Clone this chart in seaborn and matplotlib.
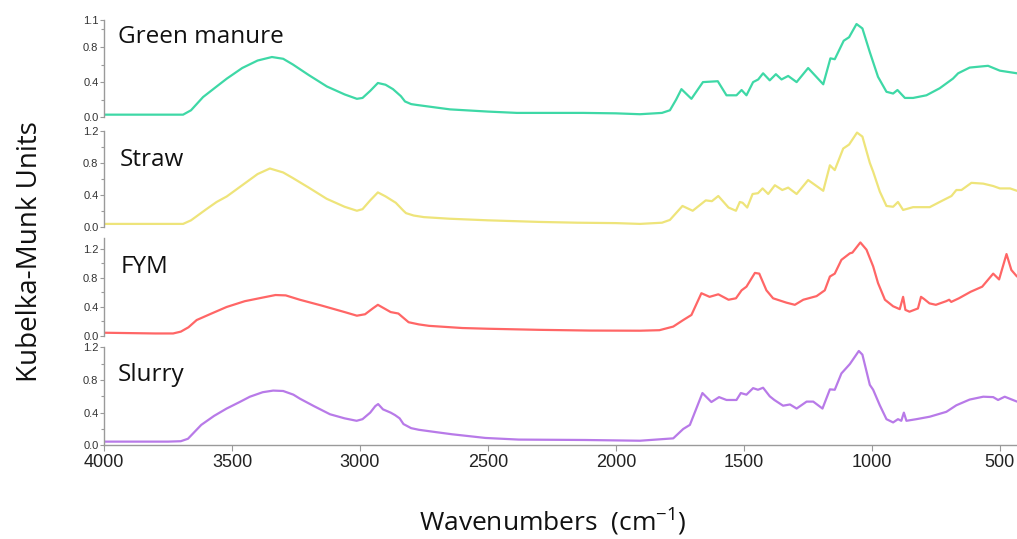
import numpy as np
import pandas as pd
import matplotlib
matplotlib.use("Agg")
import matplotlib.pyplot as plt
import seaborn as sns

# ---------------- data ----------------
gm_wn = [4000, 3800, 3691, 3660, 3613, 3560, 3520, 3460, 3400, 3344, 3300, 3262, 3200, 3129,
         3060, 3012, 2990, 2960, 2930, 2900, 2871, 2840, 2824, 2800, 2777, 2700, 2648, 2500,
         2387, 2250, 2129, 2000, 1906, 1820, 1789, 1765, 1744, 1705, 1660, 1602, 1568, 1529,
         1509, 1490, 1464, 1444, 1425, 1399, 1375, 1353, 1327, 1294, 1249, 1190, 1162, 1145,
         1110, 1089, 1060, 1037, 1008, 976, 943, 917, 900, 871, 839, 787, 735, 683, 663, 618,
         565, 546, 500, 433]
gm_val = [0.03, 0.03, 0.03, 0.08, 0.23, 0.35, 0.44, 0.56, 0.645, 0.685, 0.665, 0.60, 0.48, 0.35,
          0.26, 0.21, 0.22, 0.30, 0.39, 0.37, 0.32, 0.24, 0.18, 0.15, 0.14, 0.11, 0.09, 0.065,
          0.05, 0.05, 0.05, 0.045, 0.035, 0.05, 0.08, 0.20, 0.32, 0.21, 0.40, 0.41, 0.25, 0.25,
          0.31, 0.25, 0.40, 0.43, 0.50, 0.42, 0.49, 0.43, 0.47, 0.40, 0.56, 0.375, 0.67, 0.66,
          0.87, 0.91, 1.06, 1.01, 0.74, 0.46, 0.29, 0.27, 0.31, 0.22, 0.22, 0.25, 0.33, 0.44,
          0.50, 0.565, 0.58, 0.585, 0.53, 0.50]

st_wn = [4000, 3800, 3691, 3660, 3600, 3560, 3520, 3460, 3400, 3352, 3300, 3262, 3200, 3130,
         3060, 3012, 2990, 2960, 2930, 2900, 2860, 2830, 2820, 2790, 2750, 2650, 2500, 2300,
         2150, 2000, 1906, 1820, 1789, 1740, 1700, 1649, 1625, 1600, 1560, 1531, 1516, 1505,
         1487, 1466, 1445, 1427, 1405, 1379, 1350, 1327, 1294, 1249, 1190, 1164, 1145, 1112,
         1089, 1058, 1037, 1008, 995, 969, 943, 917, 898, 878, 839, 774, 735, 689, 670, 650,
         611, 565, 526, 500, 460, 433]
st_val = [0.035, 0.035, 0.035, 0.08, 0.22, 0.31, 0.38, 0.52, 0.66, 0.73, 0.68, 0.61, 0.49, 0.35,
          0.25, 0.20, 0.22, 0.33, 0.43, 0.38, 0.30, 0.20, 0.17, 0.14, 0.12, 0.10, 0.08, 0.06,
          0.05, 0.045, 0.035, 0.05, 0.085, 0.26, 0.20, 0.33, 0.32, 0.385, 0.24, 0.20, 0.31, 0.30,
          0.24, 0.41, 0.42, 0.48, 0.41, 0.52, 0.46, 0.49, 0.41, 0.585, 0.45, 0.77, 0.71, 0.98,
          1.03, 1.18, 1.13, 0.80, 0.69, 0.44, 0.26, 0.25, 0.31, 0.21, 0.245, 0.245, 0.31, 0.385,
          0.46, 0.46, 0.55, 0.54, 0.51, 0.48, 0.48, 0.45]

fy_wn = [4000, 3800, 3730, 3700, 3670, 3638, 3580, 3521, 3450, 3380, 3330, 3290, 3235, 3150,
         3060, 3012, 2980, 2950, 2930, 2905, 2880, 2850, 2830, 2810, 2770, 2730, 2600, 2500,
         2300, 2100, 1906, 1830, 1776, 1737, 1705, 1666, 1634, 1600, 1560, 1531, 1509, 1490,
         1457, 1440, 1412, 1386, 1334, 1301, 1268, 1216, 1184, 1164, 1145, 1119, 1086, 1076,
         1045, 1021, 995, 976, 949, 917, 891, 878, 869, 853, 820, 808, 796, 775, 750, 710,
         698, 690, 660, 614, 569, 526, 503, 474, 455, 433]
fy_val = [0.045, 0.035, 0.035, 0.06, 0.12, 0.22, 0.31, 0.40, 0.48, 0.53, 0.565, 0.56, 0.50, 0.42,
          0.33, 0.28, 0.30, 0.38, 0.43, 0.38, 0.33, 0.31, 0.25, 0.19, 0.16, 0.14, 0.11, 0.10,
          0.085, 0.075, 0.073, 0.08, 0.13, 0.22, 0.29, 0.59, 0.54, 0.575, 0.50, 0.52, 0.63, 0.68,
          0.87, 0.86, 0.63, 0.52, 0.46, 0.43, 0.50, 0.55, 0.63, 0.82, 0.86, 1.05, 1.14, 1.15,
          1.29, 1.19, 0.96, 0.73, 0.50, 0.41, 0.37, 0.54, 0.36, 0.335, 0.38, 0.54, 0.51, 0.45,
          0.43, 0.48, 0.50, 0.47, 0.52, 0.61, 0.68, 0.86, 0.78, 1.13, 0.91, 0.82]

sl_wn = [4000, 3750, 3700, 3672, 3620, 3570, 3521, 3470, 3430, 3380, 3339, 3300, 3260, 3234,
         3180, 3117, 3060, 3013, 2990, 2960, 2940, 2929, 2910, 2880, 2863, 2845, 2830, 2800,
         2770, 2700, 2640, 2510, 2380, 2120, 1906, 1776, 1737, 1711, 1662, 1627, 1597, 1568,
         1529, 1512, 1490, 1464, 1445, 1425, 1399, 1381, 1347, 1320, 1294, 1255, 1229, 1193,
         1164, 1145, 1119, 1086, 1051, 1037, 1008, 995, 969, 943, 917, 898, 885, 875, 865,
         826, 774, 709, 670, 618, 565, 526, 507, 481, 433]
sl_val = [0.045, 0.045, 0.05, 0.08, 0.25, 0.36, 0.45, 0.53, 0.595, 0.65, 0.67, 0.665, 0.62, 0.57,
          0.48, 0.38, 0.33, 0.30, 0.32, 0.40, 0.48, 0.505, 0.44, 0.40, 0.37, 0.33, 0.26, 0.21,
          0.19, 0.16, 0.135, 0.09, 0.07, 0.065, 0.056, 0.085, 0.20, 0.25, 0.64, 0.53, 0.59,
          0.555, 0.555, 0.64, 0.62, 0.70, 0.68, 0.705, 0.60, 0.555, 0.485, 0.50, 0.45, 0.535,
          0.535, 0.45, 0.685, 0.68, 0.88, 0.995, 1.155, 1.11, 0.74, 0.68, 0.49, 0.32, 0.28,
          0.32, 0.30, 0.40, 0.30, 0.32, 0.35, 0.41, 0.49, 0.56, 0.595, 0.59, 0.555, 0.595, 0.535]

names = ["Green manure", "Straw", "FYM", "Slurry"]
series_wn = [gm_wn, st_wn, fy_wn, sl_wn]
series_val = [gm_val, st_val, fy_val, sl_val]
colors = ["#3ed8a6", "#eee47a", "#ff6666", "#b87ae8"]
ylims = [1.1, 1.2, 1.35, 1.2]
ymajor = [[0.0, 0.4, 0.8, 1.1], [0.0, 0.4, 0.8, 1.2], [0.0, 0.4, 0.8, 1.2], [0.0, 0.4, 0.8, 1.2]]
xticks = [4000, 3500, 3000, 2500, 2000, 1500, 1000, 500]

# ---------------- figure ----------------
sns.set_theme(style="white")
plt.rcParams["font.family"] = ["Liberation Sans", "DejaVu Sans"]
plt.rcParams["mathtext.fontset"] = "custom"
plt.rcParams["mathtext.rm"] = "Open Sans"
plt.rcParams["mathtext.default"] = "regular"

W, H = 1017, 539
fig = plt.figure(figsize=(W / 100, H / 100), dpi=100)
fig.patch.set_facecolor("white")

# (top px, bottom px) of each panel
panel_px = [(20.5, 117.3), (131.0, 226.7), (238.1, 336.0), (347.3, 445.3)]
left_px = 104
label_pos = [(118, 37), (120, 160), (121, 267), (118, 375)]

spine_col = "#9a9a9a"
for i in range(4):
    top, bot = panel_px[i]
    ax = fig.add_axes([left_px / W, 1 - bot / H, (W - left_px) / W, (bot - top) / H])
    df = pd.DataFrame({"wn": series_wn[i], "val": series_val[i]})
    sns.lineplot(data=df, x="wn", y="val", ax=ax, color=colors[i], linewidth=1.6,
                 estimator=None, sort=True)
    ax.set_xlim(4000, 433)
    ax.set_ylim(0, ylims[i])
    ax.set_facecolor("none")
    ax.set_xlabel("")
    ax.set_ylabel("")
    for s in ["top", "right"]:
        ax.spines[s].set_visible(False)
    ax.spines["left"].set_color(spine_col)
    ax.spines["left"].set_linewidth(1.0)
    ax.set_yticks(ymajor[i])
    ax.set_yticklabels([f"{v:.1f}" for v in ymajor[i]])
    ax.set_yticks([0.2, 0.6, 1.0], minor=True)
    ax.tick_params(axis="y", which="major", direction="out", length=3, width=0.8,
                   color=spine_col, labelsize=8, labelcolor="#333333", pad=1, left=True)
    ax.tick_params(axis="y", which="minor", direction="out", length=2, width=0.8,
                   color=spine_col, left=True)
    if i < 3:
        ax.spines["bottom"].set_visible(False)
        ax.set_xticks([])
    else:
        ax.spines["bottom"].set_color(spine_col)
        ax.spines["bottom"].set_linewidth(1.0)
        ax.set_xticks(xticks)
        ax.set_xticklabels([str(t) for t in xticks])
        ax.tick_params(axis="x", which="major", direction="out", length=4, width=0.8,
                       color=spine_col, labelsize=13, labelcolor="#222222", pad=2, bottom=True)
    lx, ly = label_pos[i]
    fig.text(lx / W, 1 - ly / H, names[i], fontsize=17.5, family=["Open Sans", "DejaVu Sans"],
             color="#111111", ha="left", va="center")

fig.text(30 / W, 1 - 252 / H, "Kubelka-Munk Units", rotation=90, fontsize=20,
         family=["Open Sans", "DejaVu Sans"], color="#111111", ha="center", va="center")
fig.text(553 / W, 1 - 522 / H, "Wavenumbers  (cm$^{-1}$)", fontsize=19,
         family=["Open Sans", "DejaVu Sans"], color="#111111", ha="center", va="center")

fig.savefig("out.png", dpi=100, facecolor="white")
